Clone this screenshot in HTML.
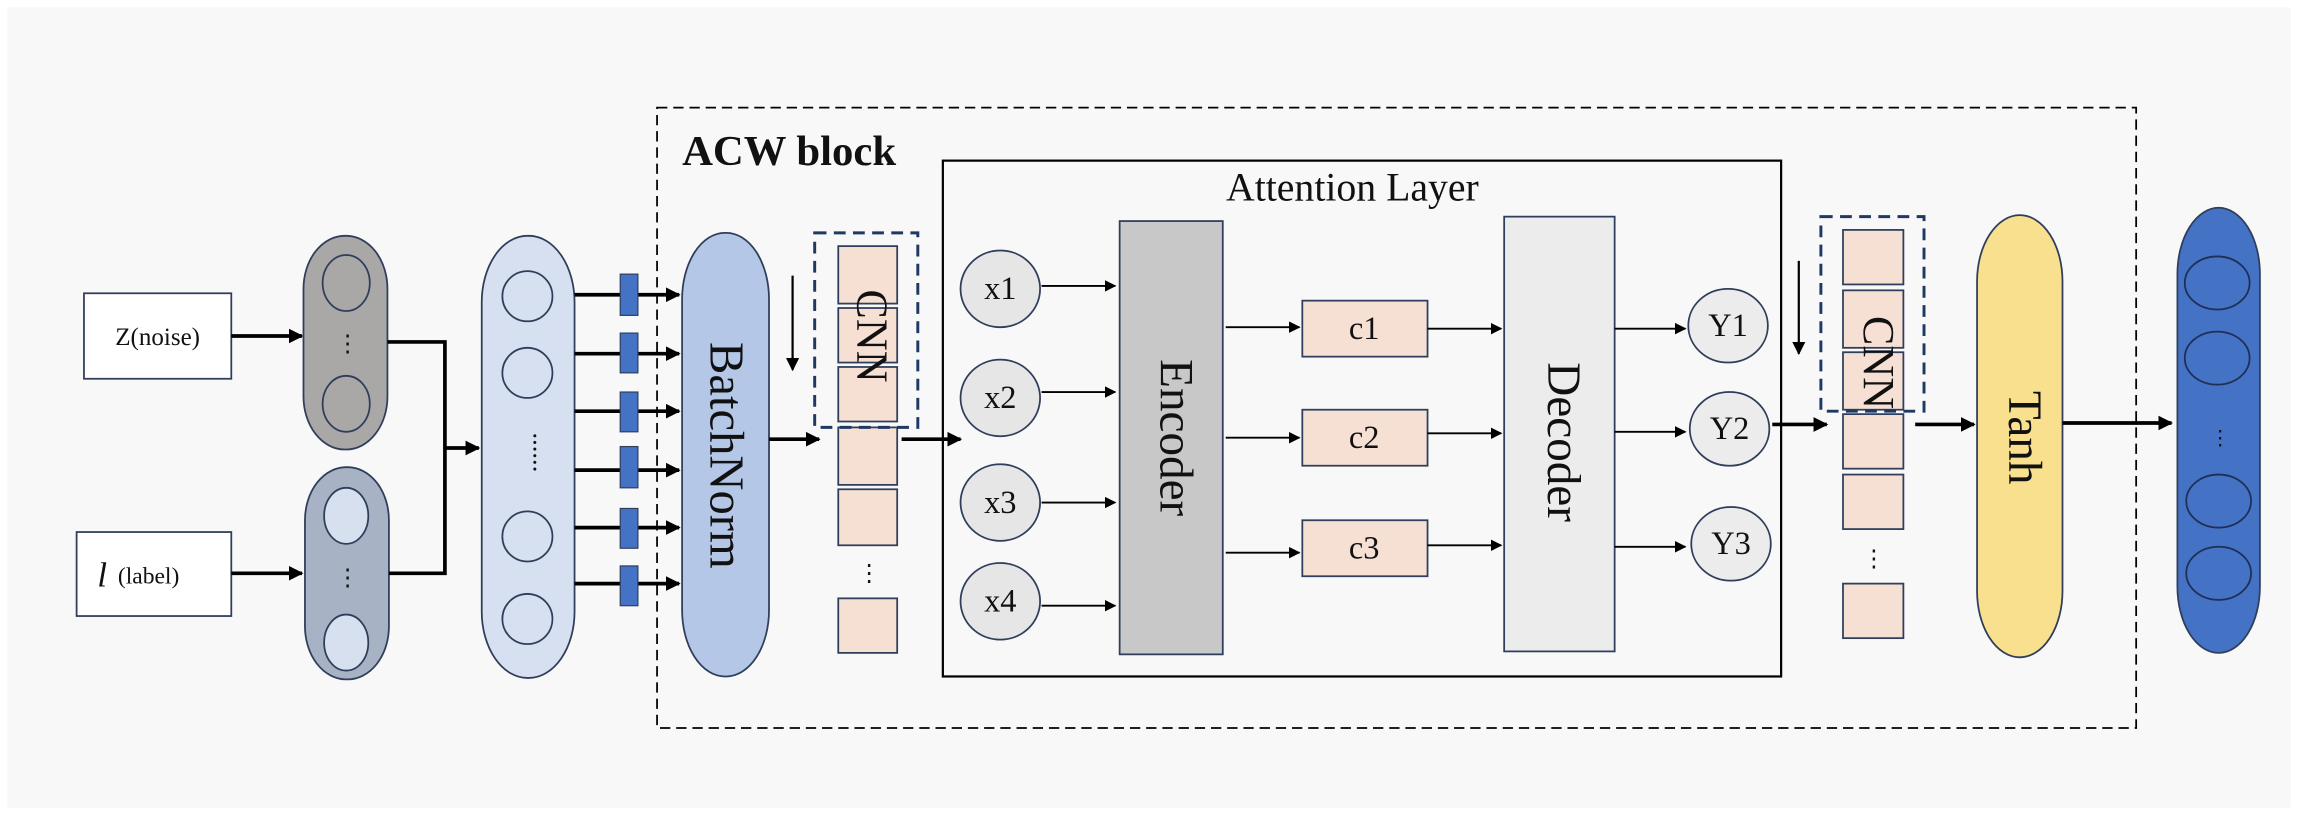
<!DOCTYPE html>
<html><head><meta charset="utf-8"><style>
html,body{margin:0;padding:0;background:#fff;}
svg{display:block;}
text{font-family:"Liberation Serif",serif;fill:#111;}
</style></head><body>
<svg width="2310" height="815" viewBox="0 0 1568 553" preserveAspectRatio="none" xmlns="http://www.w3.org/2000/svg">
<defs>
<marker id="a" viewBox="0 0 10 10" refX="9" refY="5" markerWidth="4" markerHeight="4" orient="auto"><path d="M0,0L10,5L0,10z" fill="#000"/></marker>
<marker id="b" viewBox="0 0 10 10" refX="9" refY="5" markerWidth="6" markerHeight="6" orient="auto"><path d="M0,0L10,5L0,10z" fill="#000"/></marker>
</defs>
<rect x="5" y="5" width="1550" height="543" fill="#f8f8f8"/>

<!-- inputs -->
<rect x="57" y="199" width="100" height="58" fill="#fff" stroke="#2f3e5a" stroke-width="1.2"/>
<text x="107" y="234" font-size="17" text-anchor="middle">Z(noise)</text>
<rect x="52" y="361" width="105" height="57" fill="#fff" stroke="#2f3e5a" stroke-width="1.2"/>
<text x="66" y="398" font-size="24" font-style="italic">l</text>
<text x="80" y="396" font-size="16">(label)</text>
<g stroke="#000" stroke-width="2.5" fill="none" marker-end="url(#a)">
<line x1="157" y1="228" x2="205" y2="228"/>
<line x1="157" y1="389" x2="205" y2="389"/>
</g>

<rect x="206" y="160" width="57" height="145" rx="28" ry="36" fill="#aaa7a7" stroke="#2f3e5a" stroke-width="1.2"/>
<ellipse cx="235" cy="192" rx="16" ry="19" fill="none" stroke="#2f3e5a" stroke-width="1.2"/>
<ellipse cx="235" cy="274" rx="16" ry="19" fill="none" stroke="#2f3e5a" stroke-width="1.2"/>
<text x="236" y="238" font-size="16" text-anchor="middle">⋮</text>
<rect x="207" y="317" width="57" height="144" rx="28" ry="36" fill="#a7b3c4" stroke="#2f3e5a" stroke-width="1.2"/>
<ellipse cx="235" cy="350" rx="15" ry="19" fill="#d6e0ee" stroke="#2f3e5a" stroke-width="1.2"/>
<ellipse cx="235" cy="436" rx="15" ry="19" fill="#d6e0ee" stroke="#2f3e5a" stroke-width="1.2"/>
<text x="236" y="397" font-size="16" text-anchor="middle">⋮</text>

<polyline points="263,232 302,232 302,389 264,389" fill="none" stroke="#000" stroke-width="2.5"/>
<line x1="302" y1="304" x2="325" y2="304" stroke="#000" stroke-width="2.5" marker-end="url(#a)"/>

<rect x="327" y="160" width="63" height="300" rx="31" ry="45" fill="#d6e0f0" stroke="#2f3e5a" stroke-width="1.2"/>
<ellipse cx="358" cy="201" rx="17" ry="17" fill="none" stroke="#2f3e5a" stroke-width="1.2"/>
<ellipse cx="358" cy="253" rx="17" ry="17" fill="none" stroke="#2f3e5a" stroke-width="1.2"/>
<ellipse cx="358" cy="364" rx="17" ry="17" fill="none" stroke="#2f3e5a" stroke-width="1.2"/>
<ellipse cx="358" cy="420" rx="17" ry="17" fill="none" stroke="#2f3e5a" stroke-width="1.2"/>
<text x="362" y="307" font-size="18" text-anchor="middle" transform="rotate(90 362 307)">......</text>

<g stroke="#000" stroke-width="2.5" marker-end="url(#a)">
<line x1="390" y1="200" x2="461" y2="200"/>
<line x1="390" y1="240" x2="461" y2="240"/>
<line x1="390" y1="279" x2="461" y2="279"/>
<line x1="390" y1="319" x2="461" y2="319"/>
<line x1="390" y1="358" x2="461" y2="358"/>
<line x1="390" y1="396" x2="461" y2="396"/>
</g>
<g fill="#4472c4" stroke="#2f3e5a" stroke-width="0.8">
<rect x="421" y="186" width="12" height="28"/>
<rect x="421" y="226" width="12" height="27"/>
<rect x="421" y="266" width="12" height="27"/>
<rect x="421" y="303" width="12" height="28"/>
<rect x="421" y="345" width="12" height="27"/>
<rect x="421" y="384" width="12" height="27"/>
</g>

<!-- ACW block -->
<rect x="446" y="73" width="1004" height="421" fill="none" stroke="#000" stroke-width="1.2" stroke-dasharray="7,4"/>
<text x="463" y="112" font-size="29" font-weight="bold">ACW block</text>

<rect x="463" y="158" width="59" height="301" rx="29" ry="45" fill="#b4c7e7" stroke="#2f3e5a" stroke-width="1.2"/>
<text x="490" y="309" font-size="33" text-anchor="middle" dominant-baseline="middle" transform="rotate(90 490 309)">BatchNorm</text>
<line x1="522" y1="298" x2="556" y2="298" stroke="#000" stroke-width="2.5" marker-end="url(#a)"/>

<!-- CNN col 1 -->
<g fill="#f6e0d3" stroke="#2f3e5a" stroke-width="1.2">
<rect x="569" y="167" width="40" height="39"/>
<rect x="569" y="209" width="40" height="37"/>
<rect x="569" y="249" width="40" height="37"/>
<rect x="569" y="290" width="40" height="39"/>
<rect x="569" y="332" width="40" height="38"/>
<rect x="569" y="406" width="40" height="37"/>
</g>
<text x="590" y="394" font-size="16" text-anchor="middle">⋮</text>
<rect x="553" y="158" width="70" height="132" fill="none" stroke="#1f3864" stroke-width="2" stroke-dasharray="8,5"/>
<text x="589" y="228" font-size="30" text-anchor="middle" dominant-baseline="middle" transform="rotate(90 589 228)">CNN</text>
<line x1="538" y1="187" x2="538" y2="251" stroke="#000" stroke-width="1.5" marker-end="url(#b)"/>
<line x1="612" y1="298" x2="652" y2="298" stroke="#000" stroke-width="2.5" marker-end="url(#a)"/>

<!-- Attention -->
<rect x="640" y="109" width="569" height="350" fill="none" stroke="#000" stroke-width="1.5"/>
<text x="918" y="136" font-size="27" text-anchor="middle">Attention Layer</text>
<g fill="#e6e6e6" stroke="#2f3e5a" stroke-width="1.2">
<ellipse cx="679" cy="196" rx="27" ry="26"/>
<ellipse cx="679" cy="270" rx="27" ry="26"/>
<ellipse cx="679" cy="341" rx="27" ry="26"/>
<ellipse cx="679" cy="408" rx="27" ry="26"/>
</g>
<g font-size="22" text-anchor="middle">
<text x="679" y="203">x1</text><text x="679" y="277">x2</text><text x="679" y="348">x3</text><text x="679" y="415">x4</text>
</g>
<g stroke="#000" stroke-width="1.3" marker-end="url(#b)">
<line x1="707" y1="194" x2="757" y2="194"/>
<line x1="707" y1="266" x2="757" y2="266"/>
<line x1="707" y1="341" x2="757" y2="341"/>
<line x1="707" y1="411" x2="757" y2="411"/>
</g>
<rect x="760" y="150" width="70" height="294" fill="#c9c8c9" stroke="#2f3e5a" stroke-width="1.2"/>
<text x="795" y="297" font-size="32" text-anchor="middle" dominant-baseline="middle" transform="rotate(90 795 297)">Encoder</text>
<g fill="#f6e0d3" stroke="#2f3e5a" stroke-width="1.2">
<rect x="884" y="204" width="85" height="38"/>
<rect x="884" y="278" width="85" height="38"/>
<rect x="884" y="353" width="85" height="38"/>
</g>
<g font-size="22" text-anchor="middle">
<text x="926" y="230">c1</text><text x="926" y="304">c2</text><text x="926" y="379">c3</text>
</g>
<g stroke="#000" stroke-width="1.3" marker-end="url(#b)">
<line x1="832" y1="222" x2="882" y2="222"/>
<line x1="832" y1="297" x2="882" y2="297"/>
<line x1="832" y1="375" x2="882" y2="375"/>
<line x1="969" y1="223" x2="1019" y2="223"/>
<line x1="969" y1="294" x2="1019" y2="294"/>
<line x1="969" y1="370" x2="1019" y2="370"/>
</g>
<rect x="1021" y="147" width="75" height="295" fill="#ececec" stroke="#2f3e5a" stroke-width="1.2"/>
<text x="1058" y="300" font-size="32" text-anchor="middle" dominant-baseline="middle" transform="rotate(90 1058 300)">Decoder</text>
<g stroke="#000" stroke-width="1.3" marker-end="url(#b)">
<line x1="1096" y1="223" x2="1144" y2="223"/>
<line x1="1096" y1="293" x2="1144" y2="293"/>
<line x1="1096" y1="371" x2="1144" y2="371"/>
</g>
<g fill="#ececec" stroke="#2f3e5a" stroke-width="1.2">
<ellipse cx="1173" cy="221" rx="27" ry="25"/>
<ellipse cx="1174" cy="291" rx="27" ry="25"/>
<ellipse cx="1175" cy="369" rx="27" ry="25"/>
</g>
<g font-size="22" text-anchor="middle">
<text x="1173" y="228">Y1</text><text x="1174" y="298">Y2</text><text x="1175" y="376">Y3</text>
</g>
<line x1="1203" y1="288" x2="1240" y2="288" stroke="#000" stroke-width="2.5" marker-end="url(#a)"/>

<!-- CNN col 2 -->
<g fill="#f6e0d3" stroke="#2f3e5a" stroke-width="1.2">
<rect x="1251" y="156" width="41" height="37"/>
<rect x="1251" y="197" width="41" height="39"/>
<rect x="1251" y="239" width="41" height="39"/>
<rect x="1251" y="281" width="41" height="37"/>
<rect x="1251" y="322" width="41" height="37"/>
<rect x="1251" y="396" width="41" height="37"/>
</g>
<text x="1272" y="384" font-size="16" text-anchor="middle">⋮</text>
<rect x="1236" y="147" width="70" height="132" fill="none" stroke="#1f3864" stroke-width="2" stroke-dasharray="8,5"/>
<text x="1272" y="246" font-size="30" text-anchor="middle" dominant-baseline="middle" transform="rotate(90 1272 246)">CNN</text>
<line x1="1221" y1="177" x2="1221" y2="240" stroke="#000" stroke-width="1.5" marker-end="url(#b)"/>
<line x1="1300" y1="288" x2="1340" y2="288" stroke="#000" stroke-width="2.5" marker-end="url(#a)"/>

<rect x="1342" y="146" width="58" height="300" rx="29" ry="45" fill="#f8e08e" stroke="#2f3e5a" stroke-width="1.2"/>
<text x="1371" y="297" font-size="32" text-anchor="middle" dominant-baseline="middle" transform="rotate(90 1371 297)">Tanh</text>
<line x1="1400" y1="287" x2="1474" y2="287" stroke="#000" stroke-width="2.5" marker-end="url(#a)"/>

<rect x="1478" y="141" width="56" height="302" rx="28" ry="45" fill="#4472c4" stroke="#2f3e5a" stroke-width="1.2"/>
<g fill="none" stroke="#1f2f55" stroke-width="1.2">
<ellipse cx="1505" cy="192" rx="22" ry="18"/>
<ellipse cx="1505" cy="243" rx="22" ry="18"/>
<ellipse cx="1506" cy="340" rx="22" ry="18"/>
<ellipse cx="1506" cy="389" rx="22" ry="18"/>
</g>
<text x="1507" y="302" font-size="14" text-anchor="middle">⋮</text>
</svg>
</body></html>
